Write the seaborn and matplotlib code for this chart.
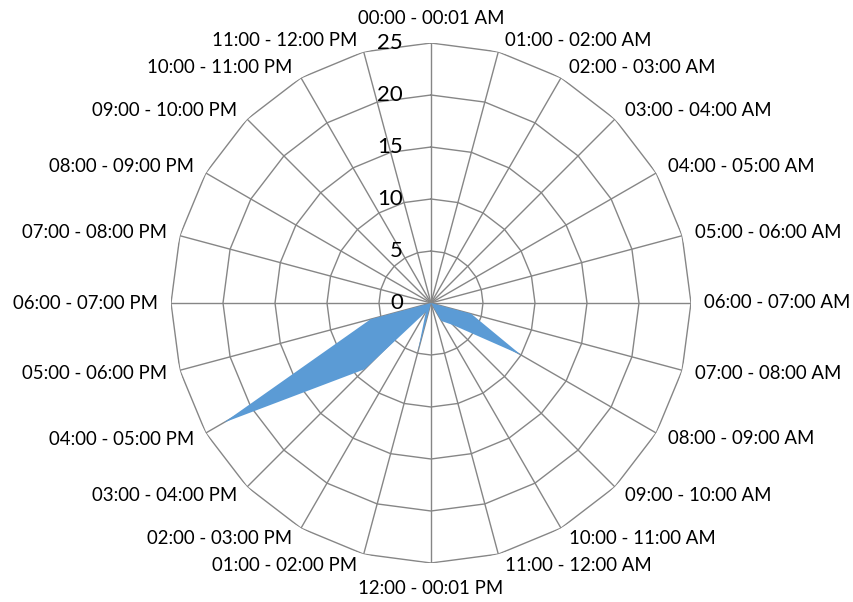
import numpy as np
import matplotlib
matplotlib.use("Agg")
import matplotlib.pyplot as plt
import seaborn as sns

categories = ["00:00 - 00:01 AM", "01:00 - 02:00 AM", "02:00 - 03:00 AM", "03:00 - 04:00 AM",
              "04:00 - 05:00 AM", "05:00 - 06:00 AM", "06:00 - 07:00 AM", "07:00 - 08:00 AM",
              "08:00 - 09:00 AM", "09:00 - 10:00 AM", "10:00 - 11:00 AM", "11:00 - 12:00 AM",
              "12:00 - 00:01 PM", "01:00 - 02:00 PM", "02:00 - 03:00 PM", "03:00 - 04:00 PM",
              "04:00 - 05:00 PM", "05:00 - 06:00 PM", "06:00 - 07:00 PM", "07:00 - 08:00 PM",
              "08:00 - 09:00 PM", "09:00 - 10:00 PM", "10:00 - 11:00 PM", "11:00 - 12:00 PM"]
values = [0, 0, 0, 0, 0, 3, 0, 4, 10, 3, 2, 0, 0, 5, 1, 9, 23, 6, 0, 0, 0, 0, 0, 0]
radial_ticks = [0, 5, 10, 15, 20, 25]

sns.set_theme(style="white")
plt.rcParams['font.family'] = ['Lato', 'DejaVu Sans']

W, H = 854, 602
fig = plt.figure(figsize=(W / 100, H / 100), dpi=100)
cx, cy, R = 431, 303, 260
ax = fig.add_axes([(cx - R) / W, (H - cy - R) / H, 2 * R / W, 2 * R / H], projection='polar')
ax.set_theta_zero_location('N')
ax.set_theta_direction(-1)
rmax = radial_ticks[-1]
ax.set_ylim(0, rmax)
ax.axis('off')

n = len(categories)
theta = np.arange(n) * 2 * np.pi / n
grid_col = '#868686'

# polygon rings
for r in radial_ticks[1:]:
    tt = np.append(theta, theta[0])
    ax.plot(tt, np.full(len(tt), r), color=grid_col, lw=1.0, zorder=1)
# spokes
for t in theta:
    ax.plot([t, t], [0, rmax], color=grid_col, lw=1.0, zorder=1)

# filled area
vals = np.append(values, values[0])
tt = np.append(theta, theta[0])
ax.fill(tt, vals, color='#5B9BD5', zorder=2, lw=0)

# category labels
for t, lab in zip(theta, categories):
    s, c = np.sin(t), np.cos(t)
    if abs(s) < 1e-6:
        dx, dy = 0, 25 * c
        ha = 'center'
    else:
        dx = np.sign(s) * (4 + 9 * abs(s))
        dy = 12 * c
        ha = 'left' if s > 0 else 'right'
    ax.annotate(lab, xy=(t, rmax), xytext=(dx, dy), textcoords='offset pixels',
                ha=ha, va='center', fontsize=13.4, color='#000000', annotation_clip=False)

# radial tick labels
for r in radial_ticks:
    ax.annotate(str(r), xy=(0, r), xytext=(-28, 0), textcoords='offset pixels',
                ha='right', va='center', fontsize=16, color='#000000', annotation_clip=False)

fig.savefig('out.png', dpi=100)
